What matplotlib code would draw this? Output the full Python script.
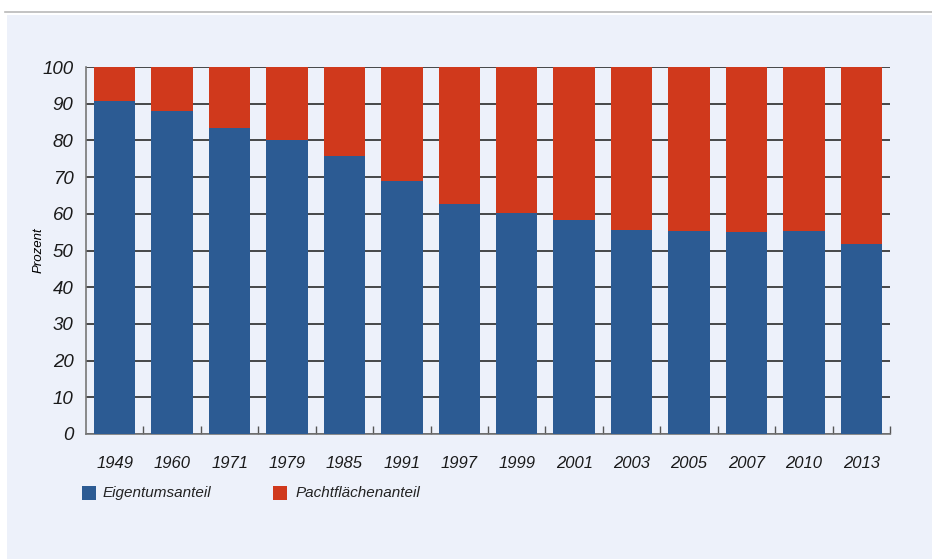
import numpy as np
import matplotlib.pyplot as plt
from matplotlib.patches import Rectangle
from matplotlib.lines import Line2D

years = ['1949', '1960', '1971', '1979', '1985', '1991', '1997', '1999',
         '2001', '2003', '2005', '2007', '2010', '2013']
eigentum = [90.8, 88.0, 83.5, 80.0, 75.8, 69.0, 62.7, 60.3,
            58.3, 55.6, 55.4, 55.1, 55.4, 51.7]
pacht = [100 - v for v in eigentum]

blue = '#2c5b93'
red = '#d0391c'
bg = '#edf1fa'

plt.rcParams['font.family'] = ['Liberation Sans', 'DejaVu Sans']

fig = plt.figure(figsize=(9.32, 5.59), dpi=100)
fig.patch.set_facecolor('white')
# light panel and top rule
fig.add_artist(Rectangle((7 / 932, 0), 1, 1 - 15 / 559, transform=fig.transFigure,
                         facecolor=bg, edgecolor='none', zorder=-10))
fig.add_artist(Line2D([5 / 932, 1], [1 - 12 / 559] * 2, transform=fig.transFigure,
                      color='#b9b9b9', lw=1.2))

ax = fig.add_axes([86 / 932, 1 - 434 / 559, 804 / 932, 367 / 559])
ax.set_facecolor(bg)

x = np.arange(len(years))
ax.bar(x, eigentum, width=0.72, color=blue, zorder=3)
ax.bar(x, pacht, width=0.72, bottom=eigentum, color=red, zorder=3)

ax.set_xlim(-0.5, len(years) - 0.5)
ax.set_ylim(0, 100)
ax.set_yticks(np.arange(0, 101, 10))
ax.yaxis.grid(True, color='#2a2a2a', lw=1.2, zorder=1)
ax.set_axisbelow(True)
ax.tick_params(axis='y', length=0, pad=9, labelsize=13.5, labelcolor='#1a1a1a')
for lab in ax.get_yticklabels():
    lab.set_fontstyle('italic')

ax.set_xticks(x)
ax.set_xticklabels(years, fontsize=12, fontstyle='italic', color='#1a1a1a')
ax.tick_params(axis='x', length=0, pad=16)
# separator ticks between bars
ax.set_xticks(x + 0.5, minor=True)
ax.tick_params(axis='x', which='minor', direction='in', length=6, color='#555555', width=1)

for s in ['top', 'right']:
    ax.spines[s].set_visible(False)
for s in ['left', 'bottom']:
    ax.spines[s].set_color('#777777')
    ax.spines[s].set_linewidth(1.2)

ax.set_ylabel('Prozent', fontsize=9.5, fontstyle='italic')
ax.yaxis.set_label_coords(-0.052, 0.5)

# legend
fig.add_artist(Rectangle((82 / 932, 1 - 500 / 559), 14 / 932, 14 / 559,
                         transform=fig.transFigure, facecolor=blue, edgecolor='none'))
fig.text(103 / 932, 1 - 493 / 559, 'Eigentumsanteil', fontsize=11, fontstyle='italic',
         va='center', color='#222222')
fig.add_artist(Rectangle((273 / 932, 1 - 500 / 559), 14 / 932, 14 / 559,
                         transform=fig.transFigure, facecolor=red, edgecolor='none'))
fig.text(296 / 932, 1 - 493 / 559, 'Pachtflächenanteil', fontsize=11, fontstyle='italic',
         va='center', color='#222222')

fig.savefig('out.png', dpi=100)
